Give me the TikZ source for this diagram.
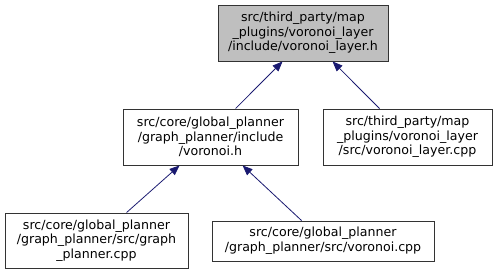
\documentclass[tikz,border=0pt]{standalone}
\usepackage{fontspec}
\setmainfont{DejaVu Sans}
\usetikzlibrary{arrows.meta}
\definecolor{edgeblue}{HTML}{191970}
\definecolor{curfill}{HTML}{BFBFBF}
\definecolor{boxline}{HTML}{333333}
\tikzset{
  filebox/.style={draw=boxline, line width=0.9pt, fill=white, inner sep=0pt,
    align=center, font=\fontsize{12.6}{14.6}\selectfont, anchor=center},
  curbox/.style={filebox, fill=curfill},
  dep/.style={draw=edgeblue, line width=0.8pt,
    -{Triangle[length=10pt,width=8pt]}},
}
\begin{document}
\begin{tikzpicture}[x=1pt,y=1pt]
  \useasboundingbox (0,0) rectangle (496,275);
  % header and the files that include it
  \node[curbox, minimum width=170pt, minimum height=56pt] (hdr) at (303,242)
    {src/third\_party/map\\\_plugins/voronoi\_layer\\/include/voronoi\_layer.h};
  \node[filebox, minimum width=175pt, minimum height=56pt] (vh) at (210.5,138)
    {src/core/global\_planner\\/graph\_planner/include\\/voronoi.h};
  \node[filebox, minimum width=169pt, minimum height=56pt] (vlcpp) at (407.5,138)
    {src/third\_party/map\\\_plugins/voronoi\_layer\\/src/voronoi\_layer.cpp};
  \node[filebox, minimum width=183pt, minimum height=55pt] (gpcpp) at (96.5,34.5)
    {src/core/global\_planner\\/graph\_planner/src/graph\\\_planner.cpp};
  \node[filebox, minimum width=222pt, minimum height=40pt] (vcpp) at (323,34)
    {src/core/global\_planner\\/graph\_planner/src/voronoi.cpp};
  % include edges
  \draw[dep] ([xshift=113pt]vh.north west) -- ([xshift=65pt]hdr.south west);
  \draw[dep] ([xshift=57pt]vlcpp.north west) -- ([xshift=115pt]hdr.south west);
  \draw[dep] ([xshift=122pt]gpcpp.north west) -- ([xshift=57pt]vh.south west);
  \draw[dep] ([xshift=90pt]vcpp.north west) -- ([xshift=120pt]vh.south west);
\end{tikzpicture}
\end{document}
